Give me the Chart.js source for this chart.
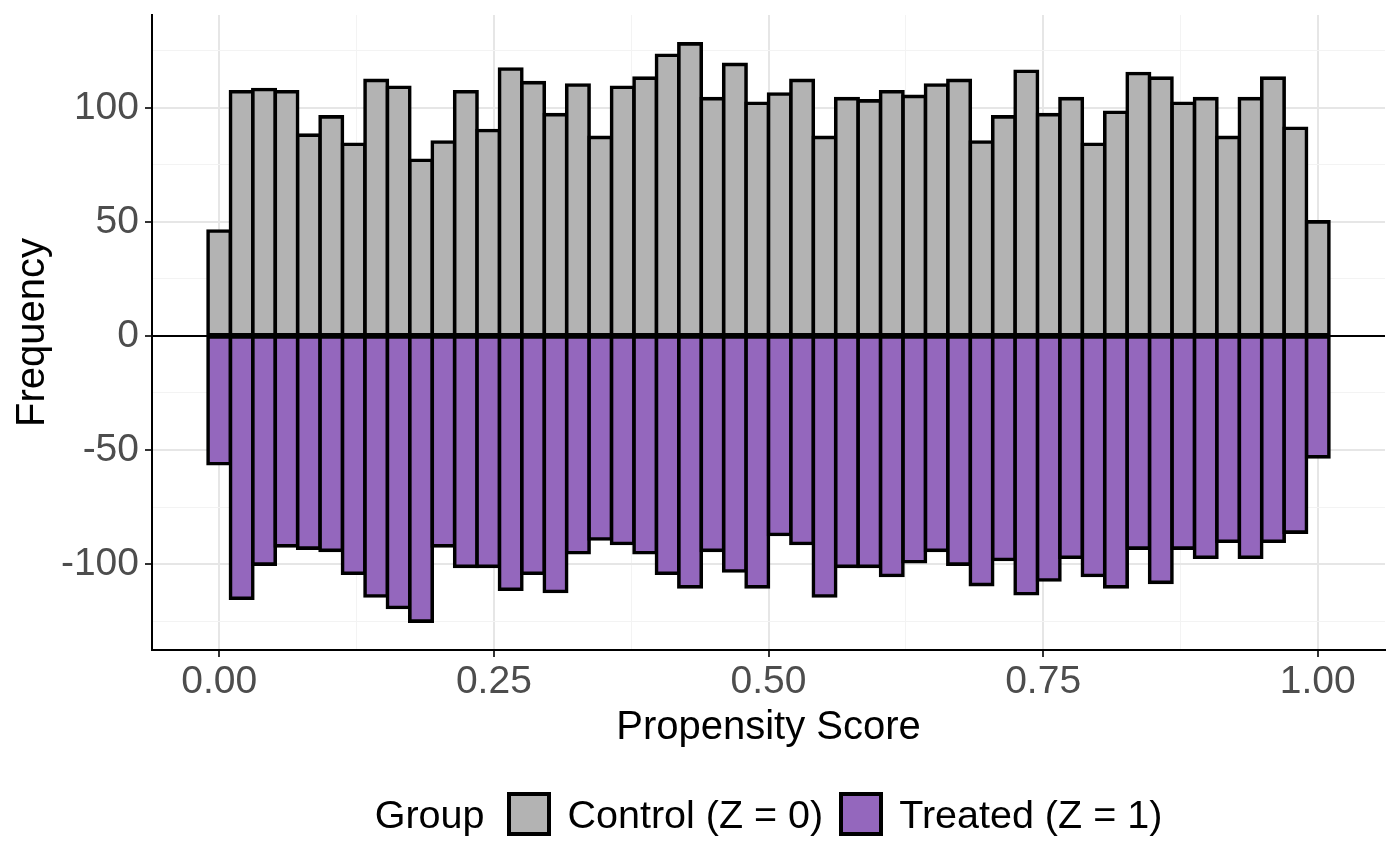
<!DOCTYPE html>
<html>
<head>
<meta charset="utf-8">
<script src="https://cdn.jsdelivr.net/npm/chart.js@4.4.1/dist/chart.umd.min.js"></script>
<style>
  html, body { margin: 0; padding: 0; background: #ffffff; }
  #wrap { position: relative; width: 1400px; height: 866px; overflow: hidden; }
  #c { position: absolute; left: 0; top: 0; }
  #legend {
    position: absolute; left: 152px; width: 1233px; top: 792px; height: 44px;
    display: flex; justify-content: center; align-items: center;
    font-family: "Liberation Sans", Arial, sans-serif; font-size: 39.5px; color: #000;
    white-space: nowrap;
  }
  .key { display: inline-block; width: 36px; height: 36px; border: 4px solid #000; box-sizing: content-box; }
</style>
</head>
<body>
<div id="wrap">
  <canvas id="c" width="1400" height="866"></canvas>
  <div id="legend">
    <span>Group</span>
    <span class="key" style="background:#B3B3B3; margin-left:22px"></span>
    <span style="margin-left:17px">Control (Z = 0)</span>
    <span class="key" style="background:#9467BD; margin-left:16px"></span>
    <span style="margin-left:16px">Treated (Z = 1)</span>
  </div>
</div>
<script>
// ---- Data ----
const binCenters = [
  0.0000, 0.0204, 0.0408, 0.0612, 0.0816, 0.1020, 0.1224, 0.1429, 0.1633, 0.1837,
  0.2041, 0.2245, 0.2449, 0.2653, 0.2857, 0.3061, 0.3265, 0.3469, 0.3673, 0.3878,
  0.4082, 0.4286, 0.4490, 0.4694, 0.4898, 0.5102, 0.5306, 0.5510, 0.5714, 0.5918,
  0.6122, 0.6327, 0.6531, 0.6735, 0.6939, 0.7143, 0.7347, 0.7551, 0.7755, 0.7959,
  0.8163, 0.8367, 0.8571, 0.8776, 0.8980, 0.9184, 0.9388, 0.9592, 0.9796, 1.0000
];
const controlCounts = [
  46, 107, 108, 107, 88, 96, 84, 112, 109, 77,
  85, 107, 90, 117, 111, 97, 110, 87, 109, 113,
  123, 128, 104, 119, 102, 106, 112, 87, 104, 103,
  107, 105, 110, 112, 85, 96, 116, 97, 104, 84,
  98, 115, 113, 102, 104, 87, 104, 113, 91, 50
];
const treatedCounts = [
  -56, -115, -100, -92, -93, -94, -104, -114, -119, -125,
  -92, -101, -101, -111, -104, -112, -95, -89, -91, -95,
  -104, -110, -94, -103, -110, -87, -91, -114, -101, -101,
  -105, -99, -94, -100, -109, -98, -113, -107, -97, -105,
  -110, -93, -108, -93, -97, -90, -97, -90, -86, -53
];
const xMajorTicks = [0, 0.25, 0.5, 0.75, 1];
const xMinorTicks = [0.125, 0.375, 0.625, 0.875];
const yMajorTicks = [-100, -50, 0, 50, 100];
const yMinorTicks = [-125, -75, -25, 25, 75, 125];
const xLabels = ["0.00", "0.25", "0.50", "0.75", "1.00"];
const seriesNames = ["Control (Z = 0)", "Treated (Z = 1)"];
const seriesColors = ["#B3B3B3", "#9467BD"];

const FONT = '"Liberation Sans", Arial, sans-serif';
const isXMajor = v => xMajorTicks.some(t => Math.abs(t - v) < 1e-9);
const isYMajor = v => yMajorTicks.some(t => Math.abs(t - v) < 1e-9);

const zeroLine = {
  id: 'zeroLine',
  afterDatasetsDraw(chart) {
    const { ctx, chartArea, scales } = chart;
    const py = scales.y.getPixelForValue(0);
    ctx.save();
    ctx.strokeStyle = '#000';
    ctx.lineWidth = 2;
    ctx.beginPath();
    ctx.moveTo(chartArea.left, py);
    ctx.lineTo(chartArea.right, py);
    ctx.stroke();
    ctx.restore();
  }
};

function barDataset(i, values) {
  return {
    label: seriesNames[i],
    data: binCenters.map((x, k) => ({ x: x, y: values[k] })),
    backgroundColor: seriesColors[i],
    borderColor: '#000000',
    borderWidth: 3.6,
    borderSkipped: false,
    inflateAmount: 1.8,
    grouped: false,
    barPercentage: 1,
    categoryPercentage: 1
  };
}

new Chart(document.getElementById('c'), {
  type: 'bar',
  data: {
    datasets: [barDataset(0, controlCounts), barDataset(1, treatedCounts)]
  },
  plugins: [zeroLine],
  options: {
    responsive: false,
    animation: false,
    devicePixelRatio: 1,
    layout: { padding: { top: 15, right: 15, left: 0, bottom: 106 } },
    plugins: { legend: { display: false }, tooltip: { enabled: false } },
    scales: {
      x: {
        type: 'linear',
        min: -0.0612,
        max: 1.0612,
        offset: false,
        afterBuildTicks(scale) {
          scale.ticks = xMajorTicks.concat(xMinorTicks).sort((a, b) => a - b).map(v => ({ value: v }));
        },
        afterFit(scale) { scale.height = 110; scale.paddingLeft = 0; scale.paddingRight = 0; },
        grid: {
          offset: false,
          drawTicks: true,
          tickLength: 7,
          tickWidth: 2,
          color: ctx => isXMajor(ctx.tick.value) ? '#E6E6E6' : '#F3F3F3',
          lineWidth: ctx => isXMajor(ctx.tick.value) ? 2 : 1,
          tickColor: ctx => isXMajor(ctx.tick.value) ? '#333333' : 'rgba(0,0,0,0)'
        },
        border: { display: true, color: '#000000', width: 2 },
        ticks: {
          autoSkip: false,
          maxRotation: 0,
          padding: 2,
          color: '#4D4D4D',
          font: { family: FONT, size: 39 },
          callback: function (value) {
            const idx = xMajorTicks.findIndex(t => Math.abs(t - value) < 1e-9);
            return idx >= 0 ? xLabels[idx] : '';
          }
        },
        title: {
          display: true,
          text: 'Propensity Score',
          color: '#000000',
          font: { family: FONT, size: 40 },
          padding: { top: 0, bottom: 8 }
        }
      },
      y: {
        type: 'linear',
        min: -137.65,
        max: 140.65,
        afterBuildTicks(scale) {
          scale.ticks = yMajorTicks.concat(yMinorTicks).sort((a, b) => a - b).map(v => ({ value: v }));
        },
        afterFit(scale) { scale.width = 152; scale.paddingTop = 0; scale.paddingBottom = 0; },
        grid: {
          drawTicks: true,
          tickLength: 7,
          tickWidth: 2,
          color: ctx => isYMajor(ctx.tick.value) ? '#E6E6E6' : '#F3F3F3',
          lineWidth: ctx => isYMajor(ctx.tick.value) ? 2 : 1,
          tickColor: ctx => isYMajor(ctx.tick.value) ? '#333333' : 'rgba(0,0,0,0)'
        },
        border: { display: true, color: '#000000', width: 2 },
        ticks: {
          autoSkip: false,
          padding: 6,
          color: '#4D4D4D',
          font: { family: FONT, size: 39 },
          callback: function (value) { return isYMajor(value) ? String(value) : ''; }
        },
        title: {
          display: true,
          text: 'Frequency',
          color: '#000000',
          font: { family: FONT, size: 40 },
          padding: { top: 9, bottom: 0 }
        }
      }
    }
  }
});
</script>
</body>
</html>
